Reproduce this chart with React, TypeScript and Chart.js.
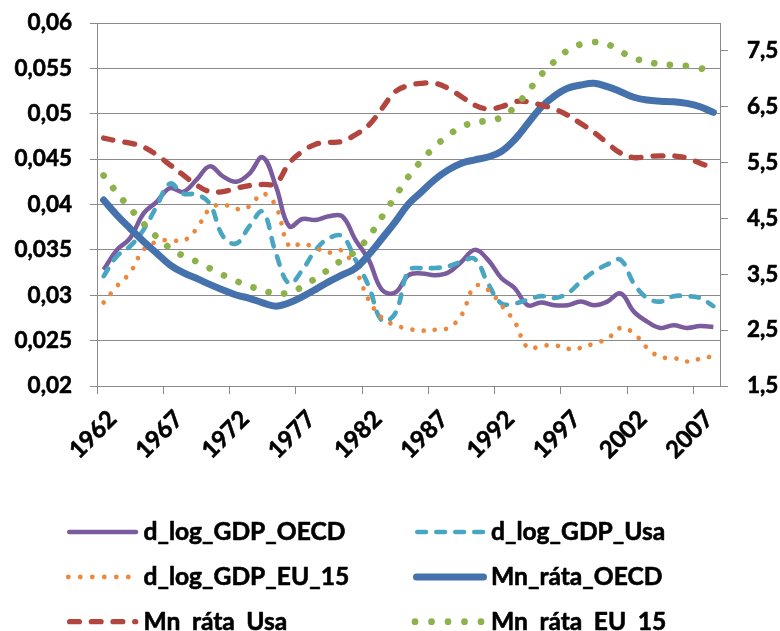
import React, { useEffect, useRef } from "react";
import { Chart, registerables } from "chart.js";

Chart.register(...registerables);

// ---------- data ----------
const years = [
  1962, 1963, 1964, 1965, 1966, 1967, 1968, 1969, 1970, 1971,
  1972, 1973, 1974, 1975, 1976, 1977, 1978, 1979, 1980, 1981,
  1982, 1983, 1984, 1985, 1986, 1987, 1988, 1989, 1990, 1991,
  1992, 1993, 1994, 1995, 1996, 1997, 1998, 1999, 2000, 2001,
  2002, 2003, 2004, 2005, 2006, 2007, 2008,
];

const dLogGdpOecd = [
  0.0328, 0.0350, 0.0363, 0.0390, 0.0403, 0.0418, 0.0414, 0.0427, 0.0442, 0.0431,
  0.0425, 0.0434, 0.0452, 0.0420, 0.0376, 0.0384, 0.0383, 0.0387, 0.0387, 0.0361,
  0.0339, 0.0306, 0.0303, 0.0322, 0.0324, 0.0322, 0.0325, 0.0337, 0.0350, 0.0339,
  0.0319, 0.0308, 0.0289, 0.0292, 0.0289, 0.0289, 0.0293, 0.0289, 0.0293, 0.0302,
  0.0282, 0.0271, 0.0264, 0.0267, 0.0264, 0.0266, 0.0265,
];

const dLogGdpUsa = [
  0.0321, 0.0343, 0.0354, 0.0372, 0.0398, 0.0423, 0.0412, 0.0411, 0.0401, 0.0365,
  0.0357, 0.0376, 0.0392, 0.0346, 0.0313, 0.0328, 0.0350, 0.0363, 0.0365, 0.0339,
  0.0310, 0.0272, 0.0280, 0.0327, 0.0330, 0.0330, 0.0332, 0.0337, 0.0340, 0.0313,
  0.0291, 0.0291, 0.0295, 0.0299, 0.0297, 0.0302, 0.0315, 0.0326, 0.0334, 0.0339,
  0.0313, 0.0297, 0.0293, 0.0299, 0.0299, 0.0297, 0.0288,
];

const dLogGdpEu15 = [
  0.0292, 0.0310, 0.0325, 0.0350, 0.0359, 0.0361, 0.0360, 0.0373, 0.0395, 0.0400,
  0.0395, 0.0398, 0.0412, 0.0398, 0.0354, 0.0357, 0.0352, 0.0347, 0.0349, 0.0328,
  0.0295, 0.0275, 0.0267, 0.0263, 0.0261, 0.0262, 0.0264, 0.0278, 0.0310, 0.0306,
  0.0289, 0.0271, 0.0242, 0.0244, 0.0245, 0.0241, 0.0242, 0.0247, 0.0252, 0.0264,
  0.0258, 0.0242, 0.0232, 0.0231, 0.0227, 0.0230, 0.0233,
];

const mnRataOecd = [
  4.83, 4.56, 4.32, 4.09, 3.88, 3.67, 3.53, 3.43, 3.32, 3.22,
  3.13, 3.07, 2.99, 2.93, 2.99, 3.10, 3.23, 3.37, 3.49, 3.61,
  3.85, 4.14, 4.44, 4.76, 4.98, 5.20, 5.37, 5.49, 5.55, 5.60,
  5.70, 5.91, 6.20, 6.49, 6.69, 6.83, 6.89, 6.92, 6.86, 6.77,
  6.67, 6.62, 6.60, 6.59, 6.56, 6.50, 6.40,
];

const mnRataUsa = [
  5.94, 5.89, 5.85, 5.78, 5.64, 5.46, 5.28, 5.10, 4.98, 4.98,
  5.04, 5.09, 5.11, 5.13, 5.49, 5.70, 5.83, 5.86, 5.88, 6.00,
  6.17, 6.47, 6.77, 6.88, 6.92, 6.92, 6.83, 6.68, 6.53, 6.46,
  6.50, 6.59, 6.59, 6.53, 6.46, 6.35, 6.20, 6.04, 5.85, 5.67,
  5.59, 5.61, 5.62, 5.62, 5.58, 5.49, 5.40,
];

const mnRataEu15 = [
  5.27, 4.96, 4.68, 4.41, 4.17, 3.97, 3.83, 3.73, 3.61, 3.49,
  3.38, 3.29, 3.21, 3.16, 3.17, 3.28, 3.43, 3.59, 3.76, 3.91,
  4.17, 4.53, 4.89, 5.25, 5.54, 5.79, 5.99, 6.14, 6.22, 6.25,
  6.31, 6.49, 6.77, 7.07, 7.31, 7.51, 7.62, 7.66, 7.62, 7.49,
  7.37, 7.31, 7.26, 7.25, 7.23, 7.19, 7.13,
];

const leftTicks = [0.02, 0.025, 0.03, 0.035, 0.04, 0.045, 0.05, 0.055, 0.06];
const rightTicks = [1.5, 2.5, 3.5, 4.5, 5.5, 6.5, 7.5];
const seriesNames = [
  "d_log_GDP_OECD",
  "d_log_GDP_Usa",
  "d_log_GDP_EU_15",
  "Mn_ráta_OECD",
  "Mn_ráta_Usa",
  "Mn_ráta_EU_15",
];

// ---------- styles ----------
const C_PURPLE = "#7A5C9E";
const C_AQUA = "#48A6C2";
const C_ORANGE = "#EC883D";
const C_BLUE = "#4572AC";
const C_RED = "#B3453F";
const C_GREEN = "#8DB24C";
const GRID = "#8A8A8A";
const FONT_FAMILY = "Lato, 'Liberation Sans', sans-serif";
const TEXT_STROKE = 0.6;

function fitSize(text: string, width: number): number {
  const c = document.createElement("canvas").getContext("2d")!;
  c.font = `bold 100px ${FONT_FAMILY}`;
  const w = c.measureText(text).width;
  return (100 * width) / w;
}

const fmt = (v: number) => String(v).replace(".", ",");

const legendPlugin = {
  id: "customLegend",
  afterDraw(chart: any) {
    const ctx: CanvasRenderingContext2D = chart.ctx;
    const size = (chart.options as any)._legendSize as number;
    ctx.save();
    ctx.lineCap = "round";
    const rows = [532, 577, 621.7];
    const lx = [67, 413];
    const rx = [138.3, 487];
    const tx = [143.5, 491];

    const solid = (x0: number, x1: number, y: number, lw: number, col: string) => {
      ctx.beginPath();
      ctx.strokeStyle = col;
      ctx.lineWidth = lw;
      ctx.moveTo(x0 + lw / 2, y);
      ctx.lineTo(x1 - lw / 2, y);
      ctx.stroke();
    };
    const dashes = (x0: number, x1: number, y: number, lw: number, col: string, len: number, period: number) => {
      ctx.strokeStyle = col;
      ctx.lineWidth = lw;
      for (let s = x0; s < x1 - lw; s += period) {
        const e = Math.min(s + len, x1);
        ctx.beginPath();
        ctx.moveTo(s + lw / 2, y);
        ctx.lineTo(e - lw / 2, y);
        ctx.stroke();
      }
    };
    const dots = (x0: number, n: number, step: number, y: number, r: number, col: string) => {
      ctx.fillStyle = col;
      for (let k = 0; k < n; k++) {
        ctx.beginPath();
        ctx.arc(x0 + k * step, y, r, 0, Math.PI * 2);
        ctx.fill();
      }
    };

    solid(lx[0], rx[0], rows[0], 4.5, C_PURPLE);
    dashes(lx[1] + 2, rx[1], rows[0], 4.6, C_AQUA, 13.3, 19);
    dots(68.3, 6, 12, rows[1], 2.4, C_ORANGE);
    solid(lx[1], rx[1], rows[1], 7, C_BLUE);
    dashes(lx[0], rx[0], rows[2], 5.3, C_RED, 15, 21.7);
    dots(415, 5, 16.5, rows[2], 3.35, C_GREEN);

    ctx.fillStyle = "#000";
    ctx.strokeStyle = "#000";
    ctx.lineWidth = TEXT_STROKE;
    ctx.lineJoin = "round";
    ctx.font = `bold ${size}px ${FONT_FAMILY}`;
    ctx.textAlign = "left";
    ctx.textBaseline = "alphabetic";
    for (let i = 0; i < seriesNames.length; i++) {
      const col = i % 2;
      const row = Math.floor(i / 2);
      ctx.fillText(seriesNames[i], tx[col], rows[row] + 8);
      ctx.strokeText(seriesNames[i], tx[col], rows[row] + 8);
    }
    ctx.restore();
  },
};

export default function App() {
  const ref = useRef<HTMLCanvasElement>(null);

  useEffect(() => {
    const tickSize = fitSize("0,055", 57.5);
    const legendSize = fitSize("d_log_GDP_OECD", 202);
    const tickFont = { family: FONT_FAMILY, size: tickSize, weight: "bold" as const };
    const xTickFont = { family: FONT_FAMILY, size: tickSize * 1.06, weight: "bold" as const };
    const tickText = { color: "#000", font: tickFont, textStrokeColor: "#000", textStrokeWidth: TEXT_STROKE };

    const common = { pointRadius: 0, pointHoverRadius: 0, tension: 0.4, fill: false, borderJoinStyle: "round" as const };

    const chart = new Chart(ref.current!, {
      type: "line",
      data: {
        labels: years.map(String),
        datasets: [
          { ...common, label: seriesNames[0], data: dLogGdpOecd, yAxisID: "y", borderColor: C_PURPLE, borderWidth: 4.5, order: 5 },
          { ...common, label: seriesNames[1], data: dLogGdpUsa, yAxisID: "y", borderColor: C_AQUA, borderWidth: 4.6, borderDash: [8.7, 10.3], borderCapStyle: "round", order: 4 },
          { ...common, label: seriesNames[2], data: dLogGdpEu15, yAxisID: "y", borderColor: C_ORANGE, borderWidth: 4.7, borderDash: [0.01, 11.3], borderCapStyle: "round", order: 3 },
          { ...common, label: seriesNames[3], data: mnRataOecd, yAxisID: "y1", borderColor: C_BLUE, borderWidth: 7, borderCapStyle: "round", order: 2 },
          { ...common, label: seriesNames[4], data: mnRataUsa, yAxisID: "y1", borderColor: C_RED, borderWidth: 5.3, borderDash: [9.7, 12], borderCapStyle: "round", order: 1 },
          { ...common, label: seriesNames[5], data: mnRataEu15, yAxisID: "y1", borderColor: C_GREEN, borderWidth: 6.7, borderDash: [0.01, 15.9], borderCapStyle: "round", order: 0 },
        ],
      },
      options: {
        responsive: false,
        maintainAspectRatio: false,
        animation: false,
        events: [],
        _legendSize: legendSize,
        layout: { padding: { top: 23, left: 0, right: 0, bottom: 0 } },
        plugins: { legend: { display: false }, tooltip: { enabled: false }, title: { display: false } },
        scales: {
          x: {
            type: "category",
            offset: true,
            grid: {
              offset: true,
              drawOnChartArea: false,
              drawTicks: true,
              tickLength: 8,
              lineWidth: 1,
              color: (c: any) => (typeof c.index === "number" && c.index % 5 === 0 ? GRID : "rgba(0,0,0,0)"),
            },
            border: { display: true, color: GRID, width: 1 },
            ticks: {
              ...tickText,
              font: xTickFont,
              autoSkip: false,
              minRotation: 45,
              maxRotation: 45,
              padding: 11,
              labelOffset: 9,
              callback: (_v: any, i: number) => (i % 5 === 0 ? String(years[i]) : ""),
            },
            afterFit: (s: any) => {
              s.height = 245;
              s.paddingLeft = 0;
              s.paddingRight = 0;
            },
          },
          y: {
            type: "linear",
            position: "left",
            min: 0.02,
            max: 0.06,
            afterBuildTicks: (s: any) => {
              s.ticks = leftTicks.map((v) => ({ value: v }));
            },
            grid: { color: GRID, lineWidth: 1, tickLength: 7, drawTicks: true },
            border: { display: true, color: GRID, width: 1 },
            ticks: { ...tickText, padding: 18, callback: (v: any) => fmt(Number(v)) },
            afterFit: (s: any) => {
              s.width = 97;
              s.paddingTop = 0;
              s.paddingBottom = 0;
            },
          },
          y1: {
            type: "linear",
            position: "right",
            min: 1.5,
            max: 8,
            afterBuildTicks: (s: any) => {
              s.ticks = rightTicks.map((v) => ({ value: v }));
            },
            grid: { drawOnChartArea: false, color: GRID, lineWidth: 1, tickLength: 8, drawTicks: true },
            border: { display: true, color: GRID, width: 1 },
            ticks: { ...tickText, padding: 19, callback: (v: any) => fmt(Number(v)) },
            afterFit: (s: any) => {
              s.width = 60;
              s.paddingTop = 0;
              s.paddingBottom = 0;
            },
          },
        },
      } as any,
      plugins: [legendPlugin],
    });
    return () => chart.destroy();
  }, []);

  return (
    <div style={{ position: "absolute", left: 0, top: 0, width: 780, height: 631, background: "#fff", overflow: "hidden" }}>
      <canvas ref={ref} width={780} height={631} style={{ display: "block", width: 780, height: 631 }} />
    </div>
  );
}
